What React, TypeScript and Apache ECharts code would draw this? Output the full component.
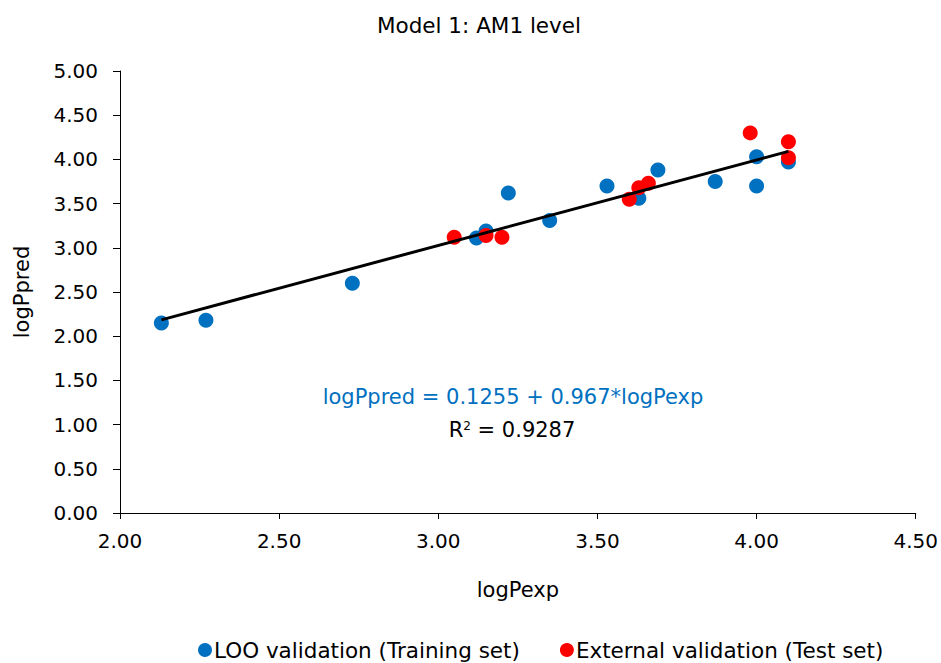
import React, { useEffect, useRef } from "react";
import * as echarts from "echarts";

const trainX = [2.13, 2.27, 2.73, 3.12, 3.15, 3.22, 3.35, 3.53, 3.63, 3.69, 3.87, 4.0, 4.0, 4.1];
const trainY = [2.15, 2.18, 2.6, 3.11, 3.19, 3.62, 3.31, 3.7, 3.56, 3.88, 3.75, 4.03, 3.7, 3.97];
const testX = [3.05, 3.15, 3.2, 3.6, 3.63, 3.66, 3.98, 4.1, 4.1];
const testY = [3.12, 3.14, 3.12, 3.55, 3.68, 3.73, 4.3, 4.2, 4.02];
const intercept = 0.1255;
const slope = 0.967;
const r2 = 0.9287;
const xTicks = [2.0, 2.5, 3.0, 3.5, 4.0, 4.5];
const yTicks = [0, 0.5, 1, 1.5, 2, 2.5, 3, 3.5, 4, 4.5, 5];

const FONT = "DejaVu Sans, Liberation Sans, Arial, sans-serif";

export default function App() {
  const ref = useRef<HTMLDivElement>(null);
  useEffect(() => {
    if (!ref.current) return;
    const chart = echarts.init(ref.current, undefined, { renderer: "svg" });
    const all = trainX.concat(testX);
    const xMin = Math.min(...all);
    const xMax = Math.max(...all);
    const fit = [
      [xMin, intercept + slope * xMin],
      [xMax, intercept + slope * xMax],
    ];
    const tickText = { color: "#000", fontSize: 20, fontFamily: FONT };
    const nameText = { color: "#000", fontSize: 21, fontFamily: FONT };
    chart.setOption({
      animation: false,
      backgroundColor: "#fff",
      title: {
        text: "Model 1: AM1 level",
        left: 474,
        textAlign: "center",
        top: 9,
        textStyle: { color: "#000", fontSize: 21.5, fontWeight: "normal", fontFamily: FONT },
      },
      grid: { left: 120, right: 21, top: 71, bottom: 150, containLabel: false },
      xAxis: {
        type: "value",
        min: xTicks[0],
        max: xTicks[xTicks.length - 1],
        interval: 0.5,
        name: "logPexp",
        nameLocation: "middle",
        nameGap: 66,
        nameTextStyle: nameText,
        axisLine: { show: true, onZero: false, lineStyle: { color: "#000", width: 1 } },
        axisTick: { show: true, length: 6, lineStyle: { color: "#000" } },
        axisLabel: { ...tickText, margin: 18, formatter: (v: number) => v.toFixed(2) },
        splitLine: { show: false },
      },
      yAxis: {
        type: "value",
        min: yTicks[0],
        max: yTicks[yTicks.length - 1],
        interval: 0.5,
        name: "logPpred",
        nameLocation: "middle",
        nameGap: 88,
        nameTextStyle: nameText,
        axisLine: { show: true, onZero: false, lineStyle: { color: "#000", width: 1 } },
        axisTick: { show: true, length: 7, lineStyle: { color: "#000" } },
        axisLabel: { ...tickText, margin: 22, formatter: (v: number) => v.toFixed(2) },
        splitLine: { show: false },
      },
      legend: {
        left: 193,
        top: 634,
        itemWidth: 14,
        itemHeight: 14,
        itemGap: 40,
        textStyle: { color: "#000", fontSize: 21.5, fontFamily: FONT, padding: [0, 0, 0, -3] },
        data: [
          { name: "LOO validation (Training set)", icon: "circle" },
          { name: "External validation (Test set)", icon: "circle" },
        ],
      },
      graphic: [
        {
          type: "text",
          x: 513,
          y: 397,
          style: {
            text: "logPpred = " + intercept + " + " + slope + "*logPexp",
            fill: "#0070C0",
            font: "21px " + FONT,
            align: "center",
            verticalAlign: "middle",
          },
        },
        {
          type: "text",
          x: 512,
          y: 430,
          style: {
            text: "R{sup|2} = " + r2,
            fill: "#000",
            font: "21px " + FONT,
            align: "center",
            verticalAlign: "middle",
            rich: {
              sup: { fontSize: 12, fontFamily: FONT, fill: "#000", verticalAlign: "top", padding: [0, 0, 8, 0] },
            },
          },
        },
      ],
      series: [
        {
          name: "fit",
          type: "line",
          data: fit,
          symbol: "none",
          lineStyle: { color: "#000", width: 3 },
          z: 3,
          silent: true,
        },
        {
          name: "LOO validation (Training set)",
          type: "scatter",
          data: trainX.map((x, i) => [x, trainY[i]]),
          symbolSize: 15,
          itemStyle: { color: "#0070C0", opacity: 1 },
          z: 2,
        },
        {
          name: "External validation (Test set)",
          type: "scatter",
          data: testX.map((x, i) => [x, testY[i]]),
          symbolSize: 15,
          itemStyle: { color: "#FF0000", opacity: 1 },
          z: 2,
        },
      ],
    });
    return () => chart.dispose();
  }, []);
  return (
    <div
      ref={ref}
      style={{ position: "fixed", left: 0, top: 0, width: 941, height: 663, background: "#fff" }}
    />
  );
}
